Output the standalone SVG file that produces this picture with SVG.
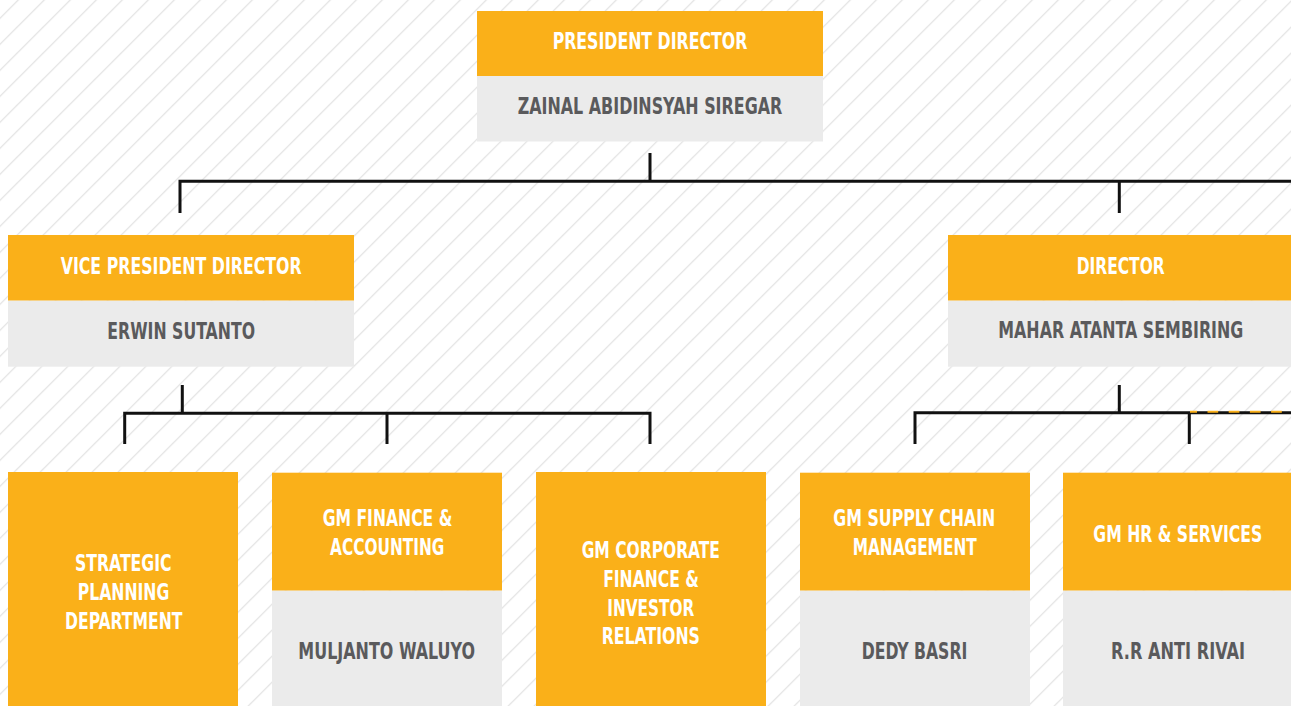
<svg xmlns="http://www.w3.org/2000/svg" width="1291" height="706" viewBox="0 0 1291 706">
<style>
.hd{fill:#FAB019}
.nm{fill:#EBEBEB}
.t{font-family:"Liberation Sans Narrow","DejaVu Sans Condensed","Liberation Sans",sans-serif;font-weight:bold;font-size:23.5px;text-anchor:middle}
.w{fill:#FFFFFF}
.g{fill:#5A5A5C}
.ln{stroke:#111111;stroke-width:3;fill:none}
.dash{stroke:#FAB019;stroke-width:2;fill:none;stroke-dasharray:10.7 10.5;stroke-dashoffset:3.7}
</style>
<defs>
<pattern id="hatch" patternUnits="userSpaceOnUse" x="18.3" y="0" width="26" height="26">
<path d="M-2,28 L28,-2 M-2,2 L2,-2 M24,28 L28,24" stroke="#E0E0E0" stroke-width="1.2" fill="none"/>
</pattern>
</defs>
<rect x="0" y="0" width="1291" height="706" fill="#FFFFFF"/>
<rect x="0" y="0" width="1291" height="706" fill="url(#hatch)"/>

<g id="connectors">
<path class="ln" d="M650,153 V181.3 M180,213 V181.3 H1291 M1119.3,181.3 V213"/>
<path class="ln" d="M182.3,385 V413.3 M124.7,444 V413.3 H650 V444 M387,413.3 V444"/>
<path class="ln" d="M1119.3,385 V412.7 M915,444 V412.7 H1291 M1189.3,412.7 V444"/>
<path class="dash" d="M1190,411.8 H1291"/>
</g>

<g id="president">
<rect class="hd" x="477" y="11" width="346" height="65"/>
<rect class="nm" x="477" y="76" width="346" height="65.5"/>
<text class="t w" x="650" y="49" textLength="194.7" lengthAdjust="spacingAndGlyphs">PRESIDENT DIRECTOR</text>
<text class="t g" x="650" y="114.3" textLength="264.7" lengthAdjust="spacingAndGlyphs">ZAINAL ABIDINSYAH SIREGAR</text>
</g>

<g id="vice-president">
<rect class="hd" x="8" y="235" width="346" height="65.7"/>
<rect class="nm" x="8" y="300.7" width="346" height="66"/>
<text class="t w" x="181.2" y="274" textLength="241" lengthAdjust="spacingAndGlyphs">VICE PRESIDENT DIRECTOR</text>
<text class="t g" x="181.2" y="339" textLength="147.7" lengthAdjust="spacingAndGlyphs">ERWIN SUTANTO</text>
</g>

<g id="director">
<rect class="hd" x="948" y="235" width="343" height="65.7"/>
<rect class="nm" x="948" y="300.7" width="343" height="66"/>
<text class="t w" x="1120.7" y="274.3" textLength="88" lengthAdjust="spacingAndGlyphs">DIRECTOR</text>
<text class="t g" x="1120.8" y="338.3" textLength="245" lengthAdjust="spacingAndGlyphs">MAHAR ATANTA SEMBIRING</text>
</g>

<g id="strategic-planning">
<rect class="hd" x="8" y="472" width="230" height="234"/>
<text class="t w" x="123.3" y="571" textLength="96.7" lengthAdjust="spacingAndGlyphs">STRATEGIC</text>
<text class="t w" x="123.5" y="600" textLength="91.7" lengthAdjust="spacingAndGlyphs">PLANNING</text>
<text class="t w" x="123.7" y="629" textLength="117.3" lengthAdjust="spacingAndGlyphs">DEPARTMENT</text>
</g>

<g id="gm-finance">
<rect class="hd" x="272" y="472.7" width="230" height="118"/>
<rect class="nm" x="272" y="590.7" width="230" height="115.3"/>
<text class="t w" x="387.5" y="525.7" textLength="129.7" lengthAdjust="spacingAndGlyphs">GM FINANCE &amp;</text>
<text class="t w" x="387.2" y="555" textLength="114.3" lengthAdjust="spacingAndGlyphs">ACCOUNTING</text>
<text class="t g" x="386.7" y="659" textLength="176.7" lengthAdjust="spacingAndGlyphs">MULJANTO WALUYO</text>
</g>

<g id="gm-corporate-finance">
<rect class="hd" x="536" y="472" width="230" height="234"/>
<text class="t w" x="650.8" y="558" textLength="138.3" lengthAdjust="spacingAndGlyphs">GM CORPORATE</text>
<text class="t w" x="651" y="586.7" textLength="95.7" lengthAdjust="spacingAndGlyphs">FINANCE &amp;</text>
<text class="t w" x="650.8" y="615.7" textLength="87" lengthAdjust="spacingAndGlyphs">INVESTOR</text>
<text class="t w" x="650.8" y="644" textLength="98.3" lengthAdjust="spacingAndGlyphs">RELATIONS</text>
</g>

<g id="gm-supply-chain">
<rect class="hd" x="800" y="472.7" width="230" height="118"/>
<rect class="nm" x="800" y="590.7" width="230" height="115.3"/>
<text class="t w" x="914.3" y="525.7" textLength="162" lengthAdjust="spacingAndGlyphs">GM SUPPLY CHAIN</text>
<text class="t w" x="914.7" y="555" textLength="124" lengthAdjust="spacingAndGlyphs">MANAGEMENT</text>
<text class="t g" x="914.5" y="659" textLength="105.7" lengthAdjust="spacingAndGlyphs">DEDY BASRI</text>
</g>

<g id="gm-hr">
<rect class="hd" x="1063" y="472.7" width="228" height="118"/>
<rect class="nm" x="1063" y="590.7" width="228" height="115.3"/>
<text class="t w" x="1177.8" y="541.7" textLength="169" lengthAdjust="spacingAndGlyphs">GM HR &amp; SERVICES</text>
<text class="t g" x="1178" y="659" textLength="134" lengthAdjust="spacingAndGlyphs">R.R ANTI RIVAI</text>
</g>
</svg>
